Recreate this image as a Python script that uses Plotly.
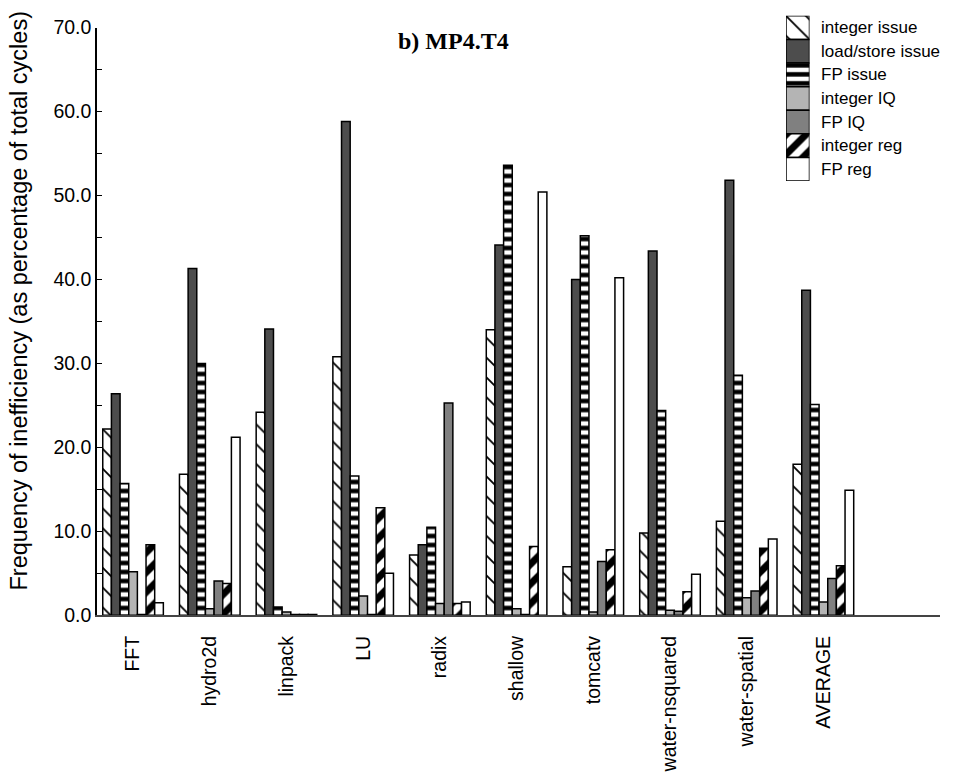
import plotly.graph_objects as go

W, H = 953, 775

categories = ["FFT", "hydro2d", "linpack", "LU", "radix", "shallow",
              "tomcatv", "water-nsquared", "water-spatial", "AVERAGE"]

series_names = ["integer issue", "load/store issue", "FP issue",
                "integer IQ", "FP IQ", "integer reg", "FP reg"]

integer_issue = [22.2, 16.8, 24.2, 30.8, 7.2, 34.0, 5.8, 9.8, 11.2, 18.0]
load_store_issue = [26.4, 41.3, 34.1, 58.8, 8.4, 44.1, 40.0, 43.4, 51.8, 38.7]
fp_issue = [15.7, 30.0, 1.0, 16.6, 10.5, 53.6, 45.2, 24.4, 28.6, 25.1]
integer_iq = [5.2, 0.8, 0.4, 2.3, 1.4, 0.8, 0.4, 0.6, 2.1, 1.6]
fp_iq = [0.1, 4.1, 0.1, 0.1, 25.3, 0.1, 6.4, 0.5, 2.9, 4.4]
integer_reg = [8.4, 3.8, 0.1, 12.8, 1.4, 8.2, 7.8, 2.8, 8.0, 5.9]
fp_reg = [1.5, 21.2, 0.1, 5.0, 1.6, 50.4, 40.2, 4.9, 9.1, 14.9]

series_values = [integer_issue, load_store_issue, fp_issue,
                 integer_iq, fp_iq, integer_reg, fp_reg]

y_ticks = [0, 10, 20, 30, 40, 50, 60, 70]

# fill style per series: (base colour, pattern shape, pattern size, solidity)
styles = [
    ("white", "\\", 14, 0.13),
    ("#4d4d4d", "", 8, 0.3),
    ("white", "-", 9, 0.5),
    ("#b4b4b4", "", 8, 0.3),
    ("#808080", "", 8, 0.3),
    ("white", "/", 14, 0.5),
    ("white", "", 8, 0.3),
]

SANS = "Liberation Sans, Arial, sans-serif"


def marker_for(style, outline=1.5):
    color, shape, size, solidity = style
    m = dict(color=color, line=dict(color="black", width=outline))
    if shape:
        m["pattern"] = dict(shape=shape, fgcolor="black", bgcolor=color,
                            size=size, solidity=solidity, fillmode="replace")
    return m


fig = go.Figure()

for name, vals, st in zip(series_names, series_values, styles):
    fig.add_trace(go.Bar(
        x=categories, y=vals, name=name, marker=marker_for(st),
        showlegend=False, xaxis="x", yaxis="y",
    ))

# legend swatches: a stack of boxes in a small inset axis
n = len(series_names)
for i, (name, st) in enumerate(zip(series_names, styles)):
    fig.add_trace(go.Bar(
        x=[0], y=[1], base=[n - 1 - i], width=[1], offset=[-0.5],
        marker=marker_for(st, outline=1.5), showlegend=False,
        xaxis="x2", yaxis="y2", hoverinfo="skip",
    ))

legend_top, legend_bottom = 5, 175
row_h = (legend_bottom - legend_top) / n
annotations = []
for i, name in enumerate(series_names):
    annotations.append(dict(
        text=name, xref="paper", yref="paper",
        x=819 / W, y=1 - (legend_top + row_h * (i + 0.5)) / H,
        xanchor="left", yanchor="middle", showarrow=False,
        font=dict(family=SANS, size=17, color="black"),
    ))

annotations.append(dict(
    text="<b>b) MP4.T4</b>", xref="paper", yref="paper",
    x=453 / W, y=1 - 31 / H, xanchor="center", yanchor="middle",
    showarrow=False,
    font=dict(family="Liberation Serif, Times New Roman, serif", size=24,
              color="black"),
))

annotations.append(dict(
    text="Frequency of inefficiency (as percentage of total cycles)",
    xref="paper", yref="paper", x=19 / W, y=1 - 298 / H,
    xanchor="center", yanchor="middle", textangle=-90, showarrow=False,
    font=dict(family=SANS, size=23.5, color="black"),
))

fig.update_layout(
    width=W, height=H,
    margin=dict(l=0, r=0, t=0, b=0),
    paper_bgcolor="white", plot_bgcolor="white",
    barmode="group", bargap=0.21, bargroupgap=0,
    showlegend=False,
    annotations=annotations,
    xaxis=dict(
        domain=[97 / W, 940 / W],
        type="category", categoryorder="array", categoryarray=categories,
        range=[-0.47, 10.52],
        showline=True, linecolor="#444", linewidth=1.5,
        ticks="", showgrid=False, zeroline=False,
        tickangle=-90, ticklabelstandoff=11,
        tickfont=dict(family=SANS, size=19.5, color="black"),
    ),
    yaxis=dict(
        domain=[1 - 622 / H, 1 - 17 / H],
        range=[0, 70],
        tickmode="array", tickvals=y_ticks,
        ticktext=[f"{v:.1f}" for v in y_ticks],
        ticks="inside", ticklen=5, tickwidth=1, tickcolor="black",
        minor=dict(dtick=5, ticks="inside", ticklen=5, tickwidth=1,
                   tickcolor="black"),
        showline=True, linecolor="black", linewidth=1.5,
        showgrid=False, zeroline=False,
        tickfont=dict(family=SANS, size=19.5, color="black"),
    ),
    xaxis2=dict(
        domain=[786 / W, 809.5 / W], anchor="y2", range=[-0.5, 0.5],
        visible=False, fixedrange=True,
    ),
    yaxis2=dict(
        domain=[1 - legend_bottom / H, 1 - legend_top / H], anchor="x2",
        range=[0, n], visible=False, fixedrange=True,
    ),
)

fig.write_html("out.html")
